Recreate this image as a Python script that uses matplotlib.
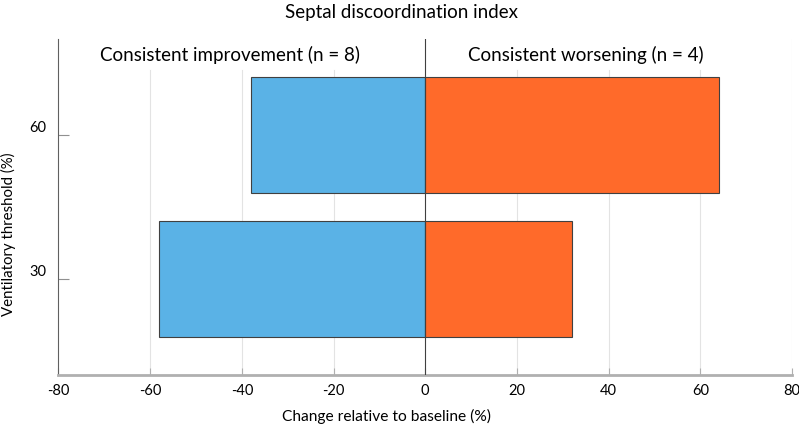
import matplotlib
matplotlib.use("Agg")
import matplotlib.pyplot as plt
import matplotlib.transforms as mtransforms
import numpy as np

plt.rcParams['font.family'] = ['Lato', 'DejaVu Sans']

categories = ["30", "60"]
improvement = [-58, -38]
worsening = [32, 64]
xticks = [-80, -60, -40, -20, 0, 20, 40, 60, 80]

title = "Septal discoordination index"
left_label = "Consistent improvement (n = 8)"
right_label = "Consistent worsening (n = 4)"
xlabel = "Change relative to baseline (%)"
ylabel = "Ventilatory threshold (%)"

fig = plt.figure(figsize=(7.99, 4.24), dpi=100)
ax = fig.add_axes([0.0732, 0.1144, 0.9180, 0.7936])

y = np.arange(len(categories))
ax.barh(y, improvement, height=0.8, color="#5AB2E6", edgecolor="#404040", linewidth=0.8, zorder=2)
ax.barh(y, worsening, height=0.8, color="#FF6A2A", edgecolor="#404040", linewidth=0.8, zorder=2)

ax.set_xlim(-80, 80)
ax.set_ylim(-0.67, 1.667)
ax.set_xticks(xticks)
ax.set_xticklabels([str(t) for t in xticks])
ax.set_yticks(y)
ax.set_yticklabels(categories)

for t in xticks[1:-1]:
    if t != 0:
        ax.axvline(t, ymax=0.908, color="#e3e3e3", linewidth=0.8, zorder=0)
ax.axvline(80, color="#e3e3e3", linewidth=0.8, zorder=0)
ax.axvline(0, color="#404040", linewidth=0.8, zorder=3)

for s in ["top", "right"]:
    ax.spines[s].set_visible(False)
ax.spines["left"].set_color("#606060")
ax.spines["left"].set_linewidth(0.8)
ax.spines["bottom"].set_color("#b0b0b0")
ax.spines["bottom"].set_linewidth(2.0)

ax.tick_params(axis="x", direction="in", length=5, width=0.8, color="#b0b0b0", labelsize=10.5, pad=6)
ax.tick_params(axis="y", direction="in", length=8, width=0.8, color="#909090", labelsize=10.5, pad=9)

offset = mtransforms.ScaledTranslation(0, 6 / 72, fig.dpi_scale_trans)
for lbl in ax.get_yticklabels():
    lbl.set_transform(lbl.get_transform() + offset)

ax.text(-42.5, 1.555, left_label, ha="center", va="center", fontsize=13.5)
ax.text(35, 1.555, right_label, ha="center", va="center", fontsize=13.5)

fig.text(0.503, 0.97, title, ha="center", va="center", fontsize=13.5)
ax.set_xlabel(xlabel, fontsize=11.2)
ax.set_ylabel(ylabel, fontsize=10.8)
ax.xaxis.set_label_coords(0.447, -0.098)
ax.yaxis.set_label_coords(-0.058, 0.42)

fig.savefig("out.png", dpi=100)
